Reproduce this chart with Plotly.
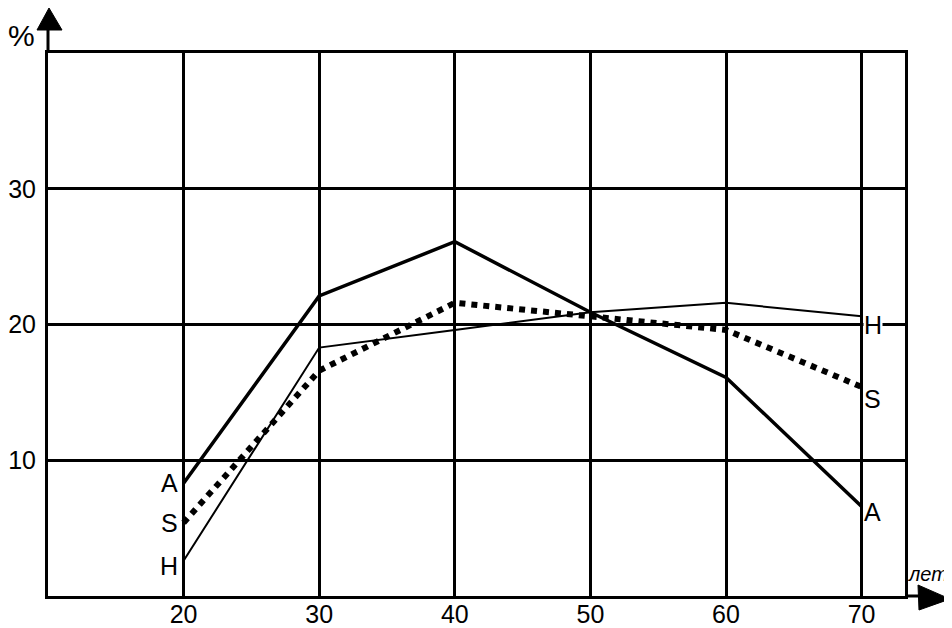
import plotly.graph_objects as go

years = [20, 30, 40, 50, 60, 70]
series_A = [8.3, 22.1, 26.1, 20.9, 16.1, 6.6]
series_H = [2.6, 18.3, 19.6, 20.9, 21.6, 20.6]
series_S = [5.4, 16.6, 21.6, 20.6, 19.6, 15.4]
y_ticks = [10, 20, 30]
x_ticks = [20, 30, 40, 50, 60, 70]

# page body has an 8px margin: figure is drawn 8px right/down
OFF = 8
W, H = 952 - OFF, 628 - OFF
L, R, T, B = 48 - OFF, 47, 53 - OFF, 32
pw, ph = W - L - R, H - T - B

def px(x):  # page pixel -> paper
    return (x - OFF - L) / pw

def py(y):
    return (H - B - (y - OFF)) / ph

FONT = "Liberation Sans, Arial, sans-serif"

fig = go.Figure()
fig.add_trace(go.Scatter(x=years, y=series_H, mode="lines",
                         line=dict(color="black", width=2), name="H"))
fig.add_trace(go.Scatter(x=years, y=series_S, mode="lines",
                         line=dict(color="black", width=6, dash="6px,6px"), name="S"))
fig.add_trace(go.Scatter(x=years, y=series_A, mode="lines",
                         line=dict(color="black", width=3.5), name="A"))

ann = []
lab_font = dict(family=FONT, size=25, color="black")
for name, vals, dy_l, dy_r in [("A", series_A, 0, -0.4), ("S", series_S, 0, -0.9), ("H", series_H, -0.4, -0.6)]:
    ann.append(dict(x=years[0], y=vals[0] + dy_l, xref="x", yref="y", text=name,
                    showarrow=False, xanchor="right", yanchor="middle", xshift=-4,
                    font=lab_font))
    ann.append(dict(x=years[-1], y=vals[-1] + dy_r, xref="x", yref="y", text=name,
                    showarrow=False, xanchor="left", yanchor="middle", xshift=1,
                    font=lab_font, bgcolor="white", borderpad=0))
ann.append(dict(x=px(21), y=py(35), xref="paper", yref="paper", text="%",
                showarrow=False, xanchor="center", yanchor="middle",
                font=dict(family=FONT, size=30, color="black")))
ann.append(dict(x=px(906), y=py(574), xref="paper", yref="paper", text="<i>лет</i>",
                showarrow=False, xanchor="left", yanchor="middle",
                font=dict(family=FONT, size=20, color="black")))

shapes = [
    # y axis extension + arrow
    dict(type="line", xref="paper", yref="paper", x0=0, x1=0, y0=1, y1=py(24),
         line=dict(color="black", width=3)),
    dict(type="path", xref="paper", yref="paper",
         path=f"M {px(37)} {py(30)} L {px(49)} {py(8)} L {px(62)} {py(30)} Z",
         fillcolor="black", line=dict(color="black", width=1)),
    # x axis extension + arrow
    dict(type="line", xref="paper", yref="paper", x0=1, x1=px(925), y0=0, y1=0,
         line=dict(color="black", width=3)),
    dict(type="path", xref="paper", yref="paper",
         path=f"M {px(918)} {py(585)} L {px(950)} {py(599)} L {px(919)} {py(610)} Z",
         fillcolor="black", line=dict(color="black", width=1)),
]

tick_font = dict(family=FONT, size=25, color="black")
fig.update_layout(
    width=W, height=H, margin=dict(l=L, r=R, t=T, b=B, autoexpand=False),
    paper_bgcolor="white", plot_bgcolor="white", showlegend=False,
    annotations=ann, shapes=shapes,
    xaxis=dict(range=[10, 73.2], tickvals=x_ticks, ticks="", showgrid=True,
               gridcolor="black", gridwidth=2.5, zeroline=False, showline=True,
               linecolor="black", linewidth=3, mirror=True, tickfont=tick_font,
               ticklabelstandoff=-6, automargin=False),
    yaxis=dict(range=[0, 40], tickvals=y_ticks, ticks="", showgrid=True,
               gridcolor="black", gridwidth=2.5, zeroline=False, showline=True,
               linecolor="black", linewidth=3, mirror=True, tickfont=tick_font,
               ticklabelstandoff=4, automargin=False),
)

fig.write_html("out.html")
